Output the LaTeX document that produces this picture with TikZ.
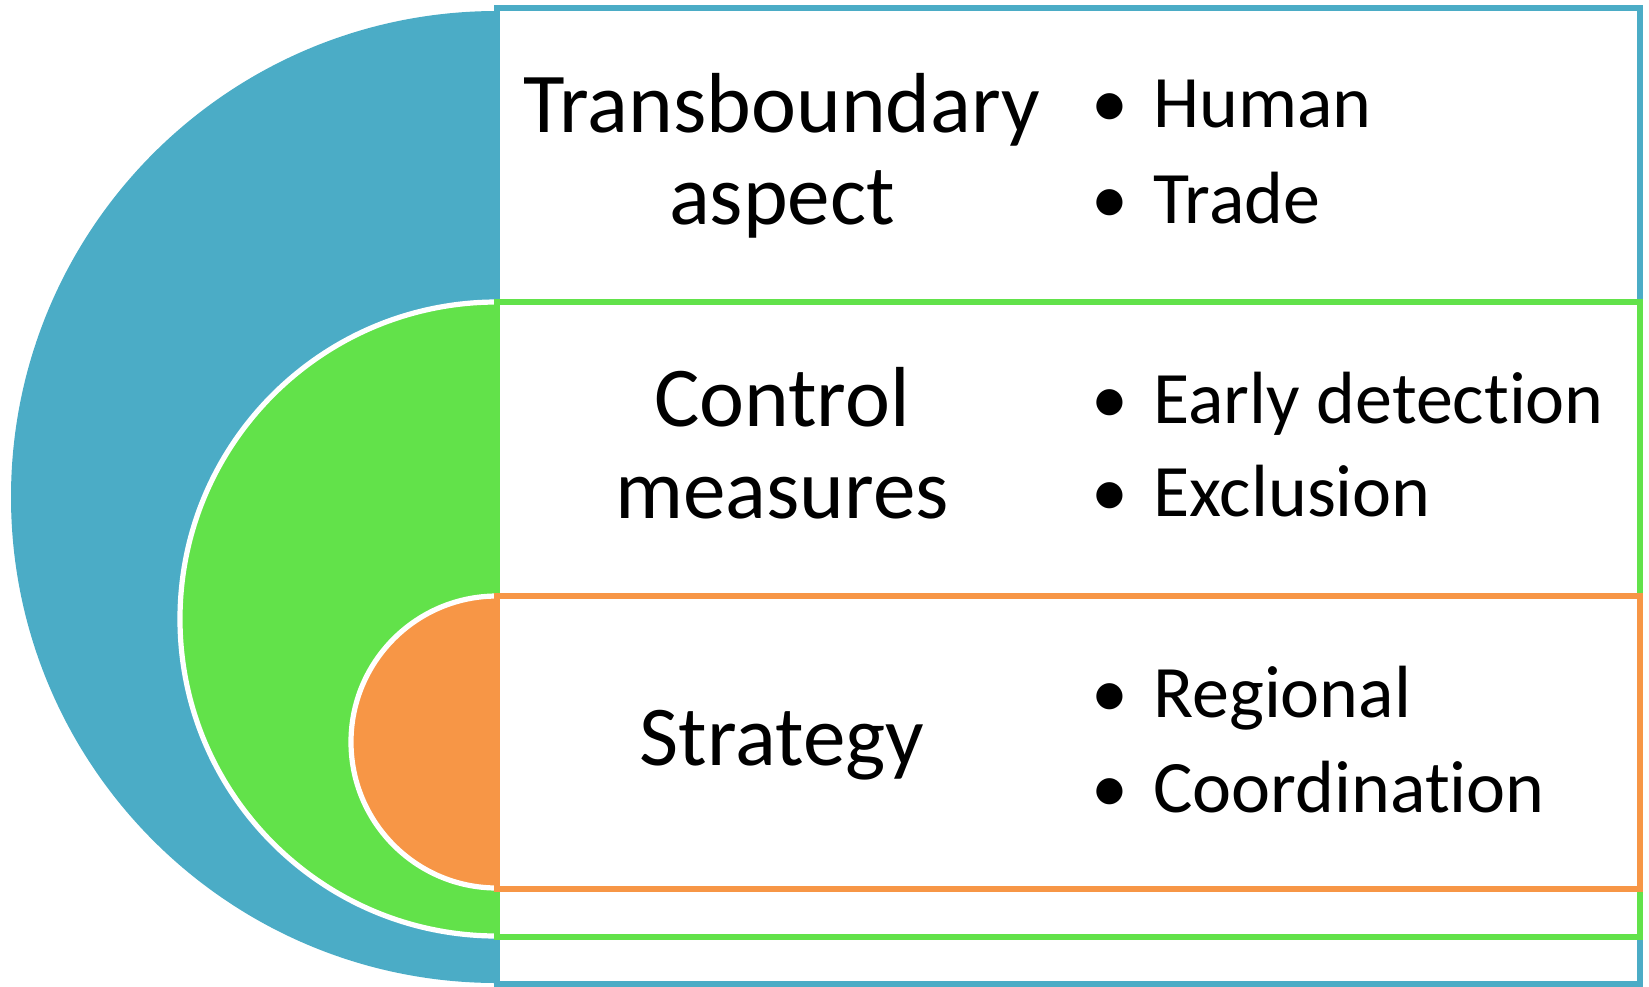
\documentclass[tikz,border=0pt]{standalone}
\usepackage{fontspec}
\setmainfont{Carlito}[Ligatures=NoCommon]
\usetikzlibrary{positioning}
\definecolor{bandblue}{HTML}{4BACC6}
\definecolor{bandgreen}{HTML}{62E24A}
\definecolor{bandorange}{HTML}{F79646}
\newcommand{\dotmark}{\llap{\makebox[43pt]{\textbullet}}}

\begin{document}
\begin{tikzpicture}
		[x=0.5pt, y=-0.5pt,
		band/.style ={draw=#1, line width=2.75pt, fill=white},
		half/.style ={fill=#1, draw=white, line width=2.6pt},
		head/.style ={anchor=base, inner sep=0pt, font=\fontsize{42.6}{48}\selectfont},
		point/.style ={anchor=base west, inner sep=0pt, font=\fontsize{37}{44}\selectfont}]
		\useasboundingbox (0,0) rectangle (1649,986);
		\fill[bandblue] (497,11) arc[start angle=270, end angle=90, x radius=486, y radius=486] -- cycle;
		\filldraw[half=bandgreen] (497,302) arc[start angle=270, end angle=90, x radius=317, y radius=317] -- cycle;
		\filldraw[half=bandorange] (497,596) arc[start angle=270, end angle=90, x radius=146, y radius=146] -- cycle;
		\draw[band=bandblue] (497,8) rectangle (1640,984);
		\draw[band=bandgreen] (497,302) rectangle (1640,937);
		\draw[band=bandorange] (497,596) rectangle (1640,889);
		\draw (782,132) node[head] (tb1) {Transboundary};
		\draw (782,224) node[head] (tb2) {aspect};
		\draw (782,426) node[head] (cm1) {Control};
		\draw (782,518) node[head] (cm2) {measures};
		\draw (782,765) node[head] (st1) {Strategy};
		\draw (1153,127) node[point] (hu) {\dotmark Human};
		\draw (1153,223) node[point] (tr) {\dotmark Trade};
		\draw (1153,423) node[point] (ed) {\dotmark Early detection};
		\draw (1153,516) node[point] (ex) {\dotmark Exclusion};
		\draw (1153,717) node[point] (re) {\dotmark Regional};
		\draw (1153,812) node[point] (co) {\dotmark Coordination};
	\end{tikzpicture}
\end{document}
